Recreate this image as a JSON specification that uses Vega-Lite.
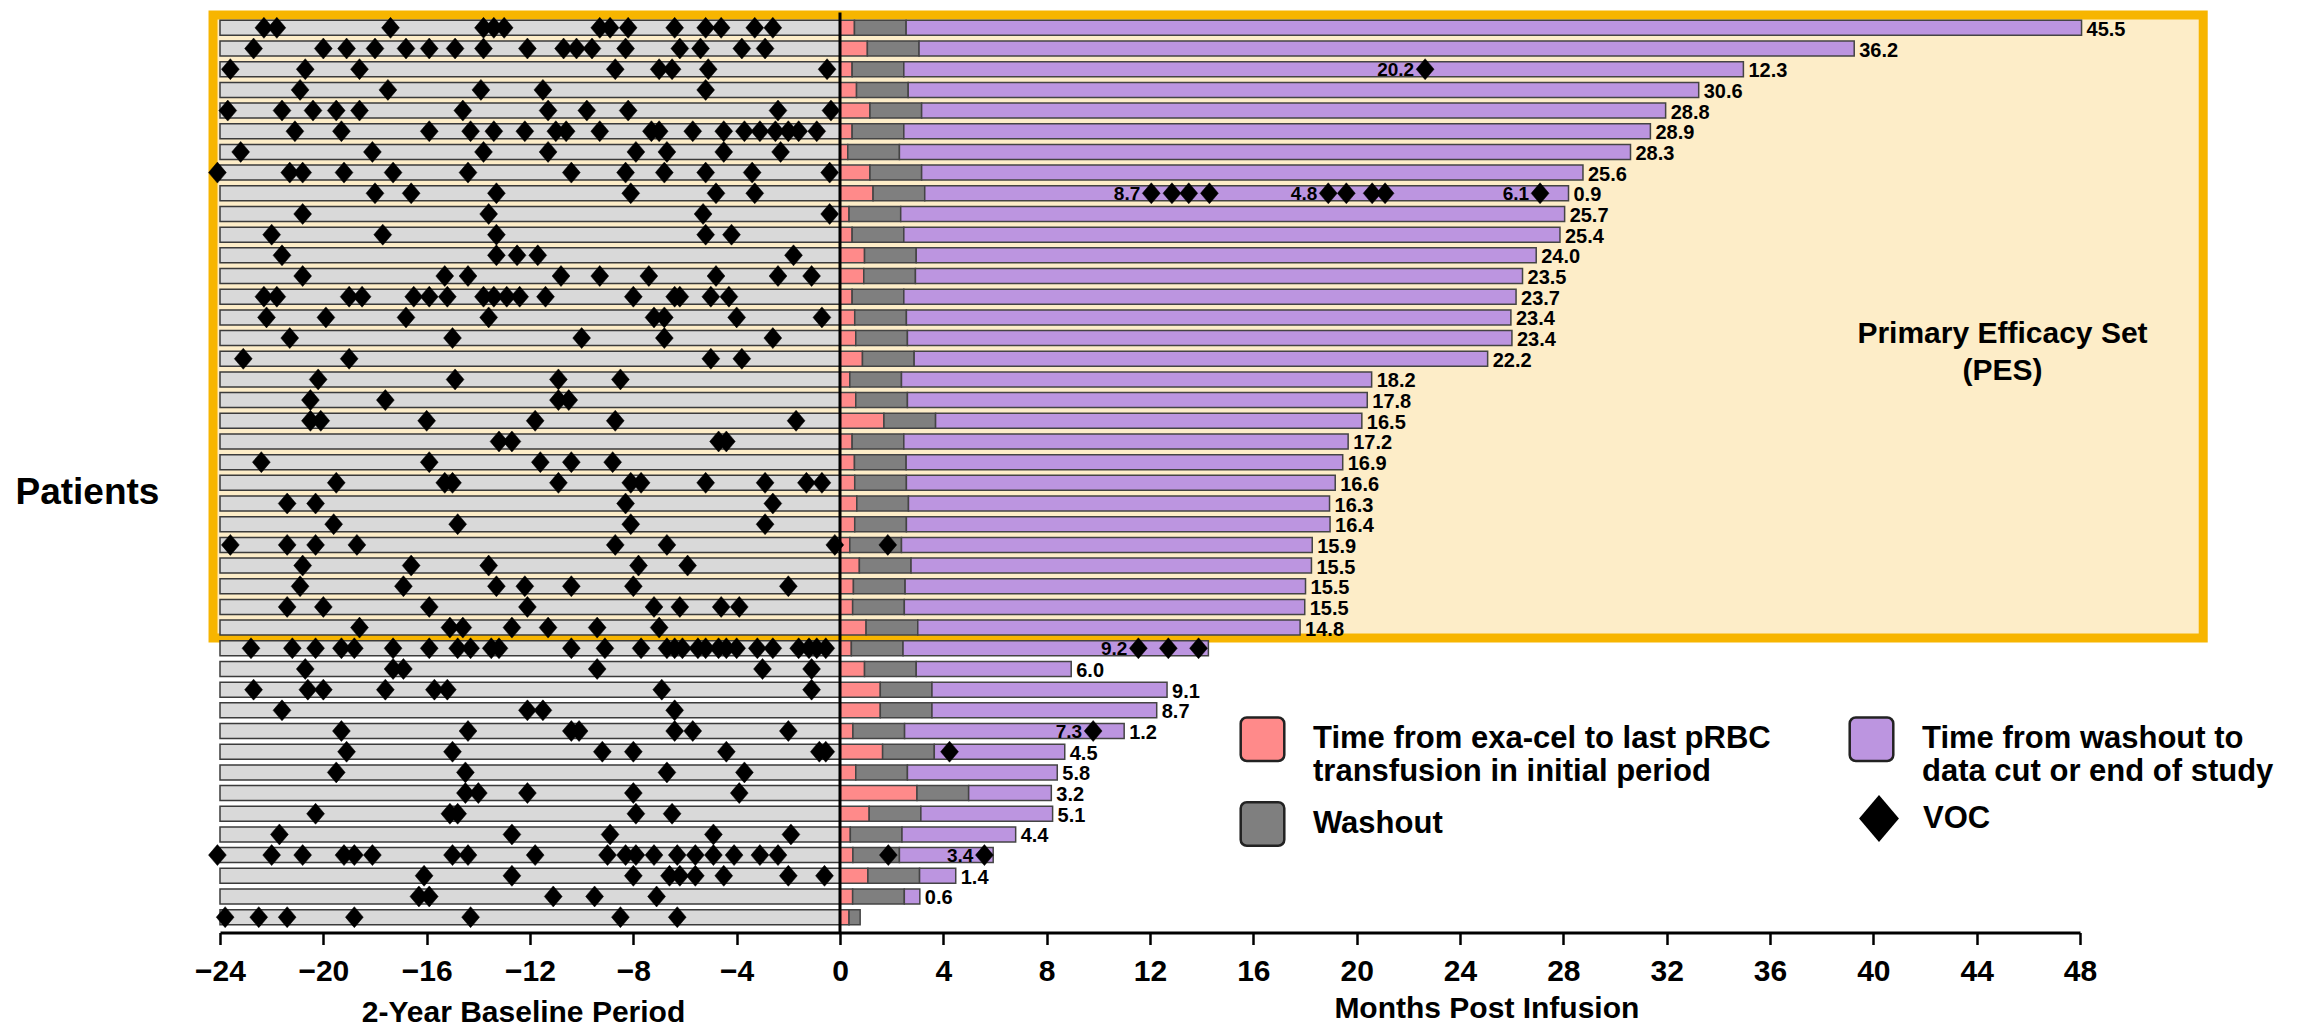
{
  "$schema": "https://vega.github.io/schema/vega-lite/v6.json",
  "width": 1860,
  "height": 920,
  "autosize": "none",
  "padding": {"left": 220, "top": 12.5, "right": 230, "bottom": 98.5},
  "background": "white",
  "config": {"view": {"stroke": null}, "font": "Liberation Sans"},
  "datasets": {
    "pts": [
      {"r":1,"e":48.06,"lab":"45.5"},{"r":2,"e":39.26,"lab":"36.2"},{"r":3,"e":34.97,"lab":"12.3"},
      {"r":4,"e":33.24,"lab":"30.6"},{"r":5,"e":31.96,"lab":"28.8"},{"r":6,"e":31.37,"lab":"28.9"},
      {"r":7,"e":30.60,"lab":"28.3"},{"r":8,"e":28.76,"lab":"25.6"},{"r":9,"e":28.2,"lab":"0.9"},
      {"r":10,"e":28.05,"lab":"25.7"},{"r":11,"e":27.87,"lab":"25.4"},{"r":12,"e":26.95,"lab":"24.0"},
      {"r":13,"e":26.42,"lab":"23.5"},{"r":14,"e":26.17,"lab":"23.7"},{"r":15,"e":25.97,"lab":"23.4"},
      {"r":16,"e":26.01,"lab":"23.4"},{"r":17,"e":25.07,"lab":"22.2"},{"r":18,"e":20.58,"lab":"18.2"},
      {"r":19,"e":20.41,"lab":"17.8"},{"r":20,"e":20.20,"lab":"16.5"},{"r":21,"e":19.67,"lab":"17.2"},
      {"r":22,"e":19.46,"lab":"16.9"},{"r":23,"e":19.17,"lab":"16.6"},{"r":24,"e":18.95,"lab":"16.3"},
      {"r":25,"e":18.97,"lab":"16.4"},{"r":26,"e":18.28,"lab":"15.9"},{"r":27,"e":18.25,"lab":"15.5"},
      {"r":28,"e":18.02,"lab":"15.5"},{"r":29,"e":17.99,"lab":"15.5"},{"r":30,"e":17.81,"lab":"14.8"},
      {"r":31,"e":14.26,"lab":null},{"r":32,"e":8.95,"lab":"6.0"},{"r":33,"e":12.66,"lab":"9.1"},
      {"r":34,"e":12.26,"lab":"8.7"},{"r":35,"e":11.0,"lab":"1.2"},{"r":36,"e":8.7,"lab":"4.5"},
      {"r":37,"e":8.41,"lab":"5.8"},{"r":38,"e":8.18,"lab":"3.2"},{"r":39,"e":8.23,"lab":"5.1"},
      {"r":40,"e":6.80,"lab":"4.4"},{"r":41,"e":5.93,"lab":null},{"r":42,"e":4.48,"lab":"1.4"},
      {"r":43,"e":3.09,"lab":"0.6"},{"r":44,"e":0.78,"lab":null}
    ],
    "segs": [
      {"r":1,"k":"p","s":0,"e":0.56},{"r":1,"k":"w","s":0.56,"e":2.56},{"r":1,"k":"u","s":2.56,"e":48.06},
      {"r":2,"k":"p","s":0,"e":1.06},{"r":2,"k":"w","s":1.06,"e":3.06},{"r":2,"k":"u","s":3.06,"e":39.26},
      {"r":3,"k":"p","s":0,"e":0.47},{"r":3,"k":"w","s":0.47,"e":2.47},{"r":3,"k":"u","s":2.47,"e":34.97},
      {"r":4,"k":"p","s":0,"e":0.64},{"r":4,"k":"w","s":0.64,"e":2.64},{"r":4,"k":"u","s":2.64,"e":33.24},
      {"r":5,"k":"p","s":0,"e":1.16},{"r":5,"k":"w","s":1.16,"e":3.16},{"r":5,"k":"u","s":3.16,"e":31.96},
      {"r":6,"k":"p","s":0,"e":0.47},{"r":6,"k":"w","s":0.47,"e":2.47},{"r":6,"k":"u","s":2.47,"e":31.37},
      {"r":7,"k":"p","s":0,"e":0.30},{"r":7,"k":"w","s":0.30,"e":2.30},{"r":7,"k":"u","s":2.30,"e":30.60},
      {"r":8,"k":"p","s":0,"e":1.16},{"r":8,"k":"w","s":1.16,"e":3.16},{"r":8,"k":"u","s":3.16,"e":28.76},
      {"r":9,"k":"p","s":0,"e":1.28},{"r":9,"k":"w","s":1.28,"e":3.28},{"r":9,"k":"u","s":3.28,"e":28.2},
      {"r":10,"k":"p","s":0,"e":0.35},{"r":10,"k":"w","s":0.35,"e":2.35},{"r":10,"k":"u","s":2.35,"e":28.05},
      {"r":11,"k":"p","s":0,"e":0.47},{"r":11,"k":"w","s":0.47,"e":2.47},{"r":11,"k":"u","s":2.47,"e":27.87},
      {"r":12,"k":"p","s":0,"e":0.95},{"r":12,"k":"w","s":0.95,"e":2.95},{"r":12,"k":"u","s":2.95,"e":26.95},
      {"r":13,"k":"p","s":0,"e":0.92},{"r":13,"k":"w","s":0.92,"e":2.92},{"r":13,"k":"u","s":2.92,"e":26.42},
      {"r":14,"k":"p","s":0,"e":0.47},{"r":14,"k":"w","s":0.47,"e":2.47},{"r":14,"k":"u","s":2.47,"e":26.17},
      {"r":15,"k":"p","s":0,"e":0.57},{"r":15,"k":"w","s":0.57,"e":2.57},{"r":15,"k":"u","s":2.57,"e":25.97},
      {"r":16,"k":"p","s":0,"e":0.61},{"r":16,"k":"w","s":0.61,"e":2.61},{"r":16,"k":"u","s":2.61,"e":26.01},
      {"r":17,"k":"p","s":0,"e":0.87},{"r":17,"k":"w","s":0.87,"e":2.87},{"r":17,"k":"u","s":2.87,"e":25.07},
      {"r":18,"k":"p","s":0,"e":0.38},{"r":18,"k":"w","s":0.38,"e":2.38},{"r":18,"k":"u","s":2.38,"e":20.58},
      {"r":19,"k":"p","s":0,"e":0.61},{"r":19,"k":"w","s":0.61,"e":2.61},{"r":19,"k":"u","s":2.61,"e":20.41},
      {"r":20,"k":"p","s":0,"e":1.70},{"r":20,"k":"w","s":1.70,"e":3.70},{"r":20,"k":"u","s":3.70,"e":20.20},
      {"r":21,"k":"p","s":0,"e":0.47},{"r":21,"k":"w","s":0.47,"e":2.47},{"r":21,"k":"u","s":2.47,"e":19.67},
      {"r":22,"k":"p","s":0,"e":0.56},{"r":22,"k":"w","s":0.56,"e":2.56},{"r":22,"k":"u","s":2.56,"e":19.46},
      {"r":23,"k":"p","s":0,"e":0.57},{"r":23,"k":"w","s":0.57,"e":2.57},{"r":23,"k":"u","s":2.57,"e":19.17},
      {"r":24,"k":"p","s":0,"e":0.65},{"r":24,"k":"w","s":0.65,"e":2.65},{"r":24,"k":"u","s":2.65,"e":18.95},
      {"r":25,"k":"p","s":0,"e":0.57},{"r":25,"k":"w","s":0.57,"e":2.57},{"r":25,"k":"u","s":2.57,"e":18.97},
      {"r":26,"k":"p","s":0,"e":0.38},{"r":26,"k":"w","s":0.38,"e":2.38},{"r":26,"k":"u","s":2.38,"e":18.28},
      {"r":27,"k":"p","s":0,"e":0.75},{"r":27,"k":"w","s":0.75,"e":2.75},{"r":27,"k":"u","s":2.75,"e":18.25},
      {"r":28,"k":"p","s":0,"e":0.52},{"r":28,"k":"w","s":0.52,"e":2.52},{"r":28,"k":"u","s":2.52,"e":18.02},
      {"r":29,"k":"p","s":0,"e":0.49},{"r":29,"k":"w","s":0.49,"e":2.49},{"r":29,"k":"u","s":2.49,"e":17.99},
      {"r":30,"k":"p","s":0,"e":1.01},{"r":30,"k":"w","s":1.01,"e":3.01},{"r":30,"k":"u","s":3.01,"e":17.81},
      {"r":31,"k":"p","s":0,"e":0.44},{"r":31,"k":"w","s":0.44,"e":2.44},{"r":31,"k":"u","s":2.44,"e":14.26},
      {"r":32,"k":"p","s":0,"e":0.95},{"r":32,"k":"w","s":0.95,"e":2.95},{"r":32,"k":"u","s":2.95,"e":8.95},
      {"r":33,"k":"p","s":0,"e":1.56},{"r":33,"k":"w","s":1.56,"e":3.56},{"r":33,"k":"u","s":3.56,"e":12.66},
      {"r":34,"k":"p","s":0,"e":1.56},{"r":34,"k":"w","s":1.56,"e":3.56},{"r":34,"k":"u","s":3.56,"e":12.26},
      {"r":35,"k":"p","s":0,"e":0.50},{"r":35,"k":"w","s":0.50,"e":2.50},{"r":35,"k":"u","s":2.50,"e":11.0},
      {"r":36,"k":"p","s":0,"e":1.65},{"r":36,"k":"w","s":1.65,"e":3.65},{"r":36,"k":"u","s":3.65,"e":8.7},
      {"r":37,"k":"p","s":0,"e":0.61},{"r":37,"k":"w","s":0.61,"e":2.61},{"r":37,"k":"u","s":2.61,"e":8.41},
      {"r":38,"k":"p","s":0,"e":2.98},{"r":38,"k":"w","s":2.98,"e":4.98},{"r":38,"k":"u","s":4.98,"e":8.18},
      {"r":39,"k":"p","s":0,"e":1.13},{"r":39,"k":"w","s":1.13,"e":3.13},{"r":39,"k":"u","s":3.13,"e":8.23},
      {"r":40,"k":"p","s":0,"e":0.40},{"r":40,"k":"w","s":0.40,"e":2.40},{"r":40,"k":"u","s":2.40,"e":6.80},
      {"r":41,"k":"p","s":0,"e":0.50},{"r":41,"k":"w","s":0.50,"e":2.30},{"r":41,"k":"u","s":2.30,"e":5.93},
      {"r":42,"k":"p","s":0,"e":1.08},{"r":42,"k":"w","s":1.08,"e":3.08},{"r":42,"k":"u","s":3.08,"e":4.48},
      {"r":43,"k":"p","s":0,"e":0.49},{"r":43,"k":"w","s":0.49,"e":2.49},{"r":43,"k":"u","s":2.49,"e":3.09},
      {"r":44,"k":"p","s":0,"e":0.35},{"r":44,"k":"w","s":0.35,"e":0.78}
    ],
    "voc": [
      {"r":1,"k":"VOC","x":[-22.3,-21.8,-17.4,-13.8,-13.4,-13.0,-9.3,-8.9,-8.2,-6.4,-5.2,-4.6,-3.3,-2.6]},
      {"r":2,"k":"VOC","x":[-22.7,-20.0,-19.1,-18.0,-16.8,-15.9,-14.9,-13.8,-12.1,-10.7,-10.2,-9.6,-8.3,-6.2,-5.4,-3.8,-2.9]},
      {"r":3,"k":"VOC","x":[-23.6,-20.7,-18.6,-8.7,-7.0,-6.5,-5.1,-0.5,22.65]},
      {"r":4,"k":"VOC","x":[-20.9,-17.5,-13.9,-11.5,-5.2]},
      {"r":5,"k":"VOC","x":[-23.7,-21.6,-20.4,-19.5,-18.6,-14.6,-11.3,-9.8,-8.2,-2.4,-0.35]},
      {"r":6,"k":"VOC","x":[-21.1,-19.3,-15.9,-14.3,-13.4,-12.2,-11.0,-10.6,-9.3,-7.3,-7.0,-5.7,-4.5,-3.7,-3.1,-2.5,-2.0,-1.6,-0.9]},
      {"r":7,"k":"VOC","x":[-23.2,-18.1,-13.8,-11.3,-7.9,-6.7,-4.5,-2.3]},
      {"r":8,"k":"VOC","x":[-24.1,-21.3,-20.8,-19.2,-17.3,-14.4,-10.4,-8.3,-6.8,-5.2,-3.4,-0.4]},
      {"r":9,"k":"VOC","x":[-18.0,-16.6,-13.3,-8.1,-4.8,-3.3,12.05,12.85,13.5,14.3,18.9,19.6,20.6,21.1,27.1]},
      {"r":10,"k":"VOC","x":[-20.8,-13.6,-5.3,-0.4]},
      {"r":11,"k":"VOC","x":[-22.0,-17.7,-13.3,-5.2,-4.2]},
      {"r":12,"k":"VOC","x":[-21.6,-13.3,-12.5,-11.7,-1.8]},
      {"r":13,"k":"VOC","x":[-20.8,-15.3,-14.4,-10.8,-9.3,-7.4,-4.8,-2.4,-1.1]},
      {"r":14,"k":"VOC","x":[-22.3,-21.8,-19.0,-18.5,-16.5,-15.9,-15.2,-13.8,-13.4,-12.9,-12.4,-11.4,-8.0,-6.4,-6.2,-5.0,-4.3]},
      {"r":15,"k":"VOC","x":[-22.2,-19.9,-16.8,-13.6,-7.2,-6.8,-4.0,-0.7]},
      {"r":16,"k":"VOC","x":[-21.3,-15.0,-10.0,-6.8,-2.6]},
      {"r":17,"k":"VOC","x":[-23.1,-19.0,-5.0,-3.8]},
      {"r":18,"k":"VOC","x":[-20.2,-14.9,-10.9,-8.5]},
      {"r":19,"k":"VOC","x":[-20.5,-17.6,-10.9,-10.5]},
      {"r":20,"k":"VOC","x":[-20.5,-20.1,-16.0,-11.8,-8.7,-1.7]},
      {"r":21,"k":"VOC","x":[-13.2,-12.7,-4.7,-4.4]},
      {"r":22,"k":"VOC","x":[-22.4,-15.9,-11.6,-10.4,-8.8]},
      {"r":23,"k":"VOC","x":[-19.5,-15.3,-15.0,-10.9,-8.1,-7.7,-5.2,-2.9,-1.3,-0.7]},
      {"r":24,"k":"VOC","x":[-21.4,-20.3,-8.3,-2.6]},
      {"r":25,"k":"VOC","x":[-19.6,-14.8,-8.1,-2.9]},
      {"r":26,"k":"VOC","x":[-23.6,-21.4,-20.3,-18.7,-8.7,-6.7,-0.2,1.85]},
      {"r":27,"k":"VOC","x":[-20.8,-16.6,-13.6,-7.8,-5.9]},
      {"r":28,"k":"VOC","x":[-20.9,-16.9,-13.3,-12.2,-10.4,-8.0,-2.0]},
      {"r":29,"k":"VOC","x":[-21.4,-20.0,-15.9,-12.1,-7.2,-6.2,-4.6,-3.9]},
      {"r":30,"k":"VOC","x":[-18.6,-15.1,-14.6,-12.7,-11.3,-9.4,-7.0]},
      {"r":31,"k":"VOC","x":[-22.8,-21.2,-20.3,-19.3,-18.8,-17.3,-15.9,-14.8,-14.3,-13.5,-13.2,-10.4,-9.1,-7.7,-6.7,-6.4,-6.1,-5.5,-5.2,-4.7,-4.4,-4.0,-3.2,-2.6,-1.6,-1.2,-0.9,-0.55,11.55,12.71,13.88]},
      {"r":32,"k":"VOC","x":[-20.7,-17.3,-16.9,-9.4,-3.0,-1.1]},
      {"r":33,"k":"VOC","x":[-22.7,-20.6,-20.0,-17.6,-15.7,-15.2,-6.9,-1.1]},
      {"r":34,"k":"VOC","x":[-21.6,-12.1,-11.5,-6.4]},
      {"r":35,"k":"VOC","x":[-19.3,-14.4,-10.4,-10.1,-6.4,-5.7,-2.0,9.8]},
      {"r":36,"k":"VOC","x":[-19.1,-15.0,-9.2,-8.0,-4.4,-0.8,-0.55,4.24]},
      {"r":37,"k":"VOC","x":[-19.5,-14.5,-6.7,-3.7]},
      {"r":38,"k":"VOC","x":[-14.5,-14.0,-12.1,-8.0,-3.9]},
      {"r":39,"k":"VOC","x":[-20.3,-15.1,-14.8,-7.9,-6.5]},
      {"r":40,"k":"VOC","x":[-21.7,-12.7,-8.9,-4.9,-1.9]},
      {"r":41,"k":"VOC","x":[-24.1,-22.0,-20.8,-19.2,-18.8,-18.1,-15.0,-14.4,-11.8,-9.0,-8.3,-7.9,-7.2,-6.3,-5.6,-4.9,-4.1,-3.1,-2.4,1.87,5.59]},
      {"r":42,"k":"VOC","x":[-16.1,-12.7,-8.0,-6.6,-6.2,-5.6,-4.5,-2.0,-0.6]},
      {"r":43,"k":"VOC","x":[-16.3,-15.9,-11.1,-9.5,-7.1]},
      {"r":44,"k":"VOC","x":[-23.8,-22.5,-21.4,-18.8,-14.3,-8.5,-6.3]}
    ],
    "mid": [
      {"r":3,"x":22.65,"t":"20.2"},
      {"r":9,"x":12.05,"t":"8.7"},
      {"r":9,"x":18.9,"t":"4.8"},
      {"r":9,"x":27.1,"t":"6.1"},
      {"r":31,"x":11.55,"t":"9.2"},
      {"r":35,"x":9.8,"t":"7.3"},
      {"r":41,"x":5.59,"t":"3.4"}
    ],
    "one": [{"n": 1}]
  },
  "layer": [
    {
      "data": {"name": "one"},
      "mark": {"type": "rect", "fill": "#FDEDC8", "stroke": "#F7B500", "strokeWidth": 9},
      "encoding": {
        "x": {"datum": -24.27, "type": "quantitative", "scale": {"domain": [-24, 48], "nice": false, "zero": false}},
        "x2": {"datum": 52.77},
        "y": {"datum": 0.38, "type": "quantitative", "scale": {"domain": [0.5, 44.5], "reverse": true, "nice": false, "zero": false}},
        "y2": {"datum": 30.5}
      }
    },
    {
      "data": {"name": "pts"},
      "mark": {"type": "bar", "size": 15, "fill": "#D9D9D9", "stroke": "#3b3b3b", "strokeWidth": 1.5},
      "encoding": {
        "x": {
          "datum": -24, "type": "quantitative",
          "scale": {"domain": [-24, 48], "nice": false, "zero": false},
          "axis": {
            "values": [-24,-20,-16,-12,-8,-4,0,4,8,12,16,20,24,28,32,36,40,44,48],
            "domainColor": "black", "domainWidth": 3,
            "tickColor": "black", "tickWidth": 2.5, "tickSize": 12,
            "labelFontSize": 30, "labelFontWeight": "bold", "labelColor": "black", "labelPadding": 12,
            "labelFlush": false, "labelOverlap": false, "grid": false,
            "title": "2-Year Baseline Period", "titleFontSize": 30, "titleFontWeight": "bold", "titleColor": "black",
            "titleX": 303, "titleY": 89, "titleAlign": "center", "titleBaseline": "alphabetic"
          }
        },
        "x2": {"datum": 0},
        "y": {
          "field": "r", "type": "quantitative",
          "scale": {"domain": [0.5, 44.5], "reverse": true, "nice": false, "zero": false},
          "axis": {
            "domain": false, "ticks": false, "labels": false, "grid": false,
            "title": "Patients", "titleAngle": 0, "titleFontSize": 37, "titleFontWeight": "bold", "titleColor": "black",
            "titleX": -205, "titleY": 480, "titleAlign": "left", "titleBaseline": "middle"
          }
        }
      }
    },
    {
      "data": {"name": "segs"},
      "mark": {"type": "bar", "size": 15, "stroke": "#444", "strokeWidth": 1.5},
      "encoding": {
        "x": {"field": "s", "type": "quantitative"},
        "x2": {"field": "e"},
        "y": {"field": "r", "type": "quantitative"},
        "color": {
          "field": "k", "type": "nominal",
          "scale": {"domain": ["p", "w", "u"], "range": ["#FF8A8A", "#7F7F7F", "#BC95E0"]},
          "legend": {
            "orient": "none", "legendX": 1019, "legendY": 703, "title": null, "columns": 2,
            "padding": 0, "columnPadding": 73, "rowPadding": 9,
            "symbolType": "M-0.72,-1H0.72A0.28,0.28,0,0,1,1,-0.72V0.72A0.28,0.28,0,0,1,0.72,1H-0.72A0.28,0.28,0,0,1,-1,0.72V-0.72A0.28,0.28,0,0,1,-0.72,-1Z",
            "symbolSize": 1900, "symbolStrokeColor": "#222", "symbolStrokeWidth": 2.5, "symbolOpacity": 1,
            "labelFontSize": 31, "labelFontWeight": "bold", "labelColor": "black", "labelLimit": 800, "labelOffset": 27,
            "labelExpr": "datum.value == 'p' ? ['Time from exa-cel to last pRBC', 'transfusion in initial period'] : datum.value == 'u' ? ['Time from washout to', 'data cut or end of study'] : '\u00a0Washout'"
          }
        }
      }
    },
    {
      "data": {"name": "one"},
      "mark": {"type": "rule", "color": "black", "strokeWidth": 3},
      "encoding": {"x": {"datum": 0, "type": "quantitative"}}
    },
    {
      "data": {"name": "voc"},
      "transform": [{"flatten": ["x"]}],
      "mark": {"type": "point", "filled": true, "fill": "black", "stroke": "black", "strokeWidth": 0.5, "size": 441, "opacity": 1},
      "encoding": {
        "x": {"field": "x", "type": "quantitative"},
        "y": {"field": "r", "type": "quantitative"},
        "shape": {
          "field": "k", "type": "nominal",
          "scale": {"domain": ["VOC"], "range": ["M0,-1L0.85,0L0,1L-0.85,0Z"]},
          "legend": {
            "orient": "none", "legendX": 1635, "legendY": 782, "title": null, "padding": 0,
            "symbolSize": 2200, "symbolFillColor": "black", "symbolStrokeColor": "black", "symbolStrokeWidth": 1,
            "labelFontSize": 31, "labelFontWeight": "bold", "labelColor": "black", "labelOffset": 20
          }
        }
      }
    },
    {
      "data": {"name": "pts"},
      "transform": [{"filter": "datum.lab != null"}],
      "mark": {"type": "text", "align": "left", "baseline": "middle", "dx": 5, "dy": 2, "fontSize": 20, "fontWeight": "bold", "color": "black"},
      "encoding": {
        "x": {"field": "e", "type": "quantitative"},
        "y": {"field": "r", "type": "quantitative"},
        "text": {"field": "lab"}
      }
    },
    {
      "data": {"name": "mid"},
      "mark": {"type": "text", "align": "right", "baseline": "middle", "dx": -11, "dy": 1, "fontSize": 19, "fontWeight": "bold", "color": "black"},
      "encoding": {
        "x": {"field": "x", "type": "quantitative"},
        "y": {"field": "r", "type": "quantitative"},
        "text": {"field": "t"}
      }
    },
    {
      "data": {"name": "one"},
      "mark": {"type": "text", "text": "Primary Efficacy Set", "align": "center", "baseline": "middle", "fontSize": 30, "fontWeight": "bold", "color": "black"},
      "encoding": {
        "x": {"datum": 45.0, "type": "quantitative"},
        "y": {"datum": 15.78, "type": "quantitative"}
      }
    },
    {
      "data": {"name": "one"},
      "mark": {"type": "text", "text": "(PES)", "align": "center", "baseline": "middle", "fontSize": 30, "fontWeight": "bold", "color": "black"},
      "encoding": {
        "x": {"datum": 45.0, "type": "quantitative"},
        "y": {"datum": 17.6, "type": "quantitative"}
      }
    },
    {
      "data": {"name": "one"},
      "mark": {"type": "text", "text": "Months Post Infusion", "align": "center", "baseline": "alphabetic", "fontSize": 30, "fontWeight": "bold", "color": "black"},
      "encoding": {
        "x": {"datum": 25.04, "type": "quantitative"},
        "y": {"datum": 48.87, "type": "quantitative"}
      }
    }
  ]
}
